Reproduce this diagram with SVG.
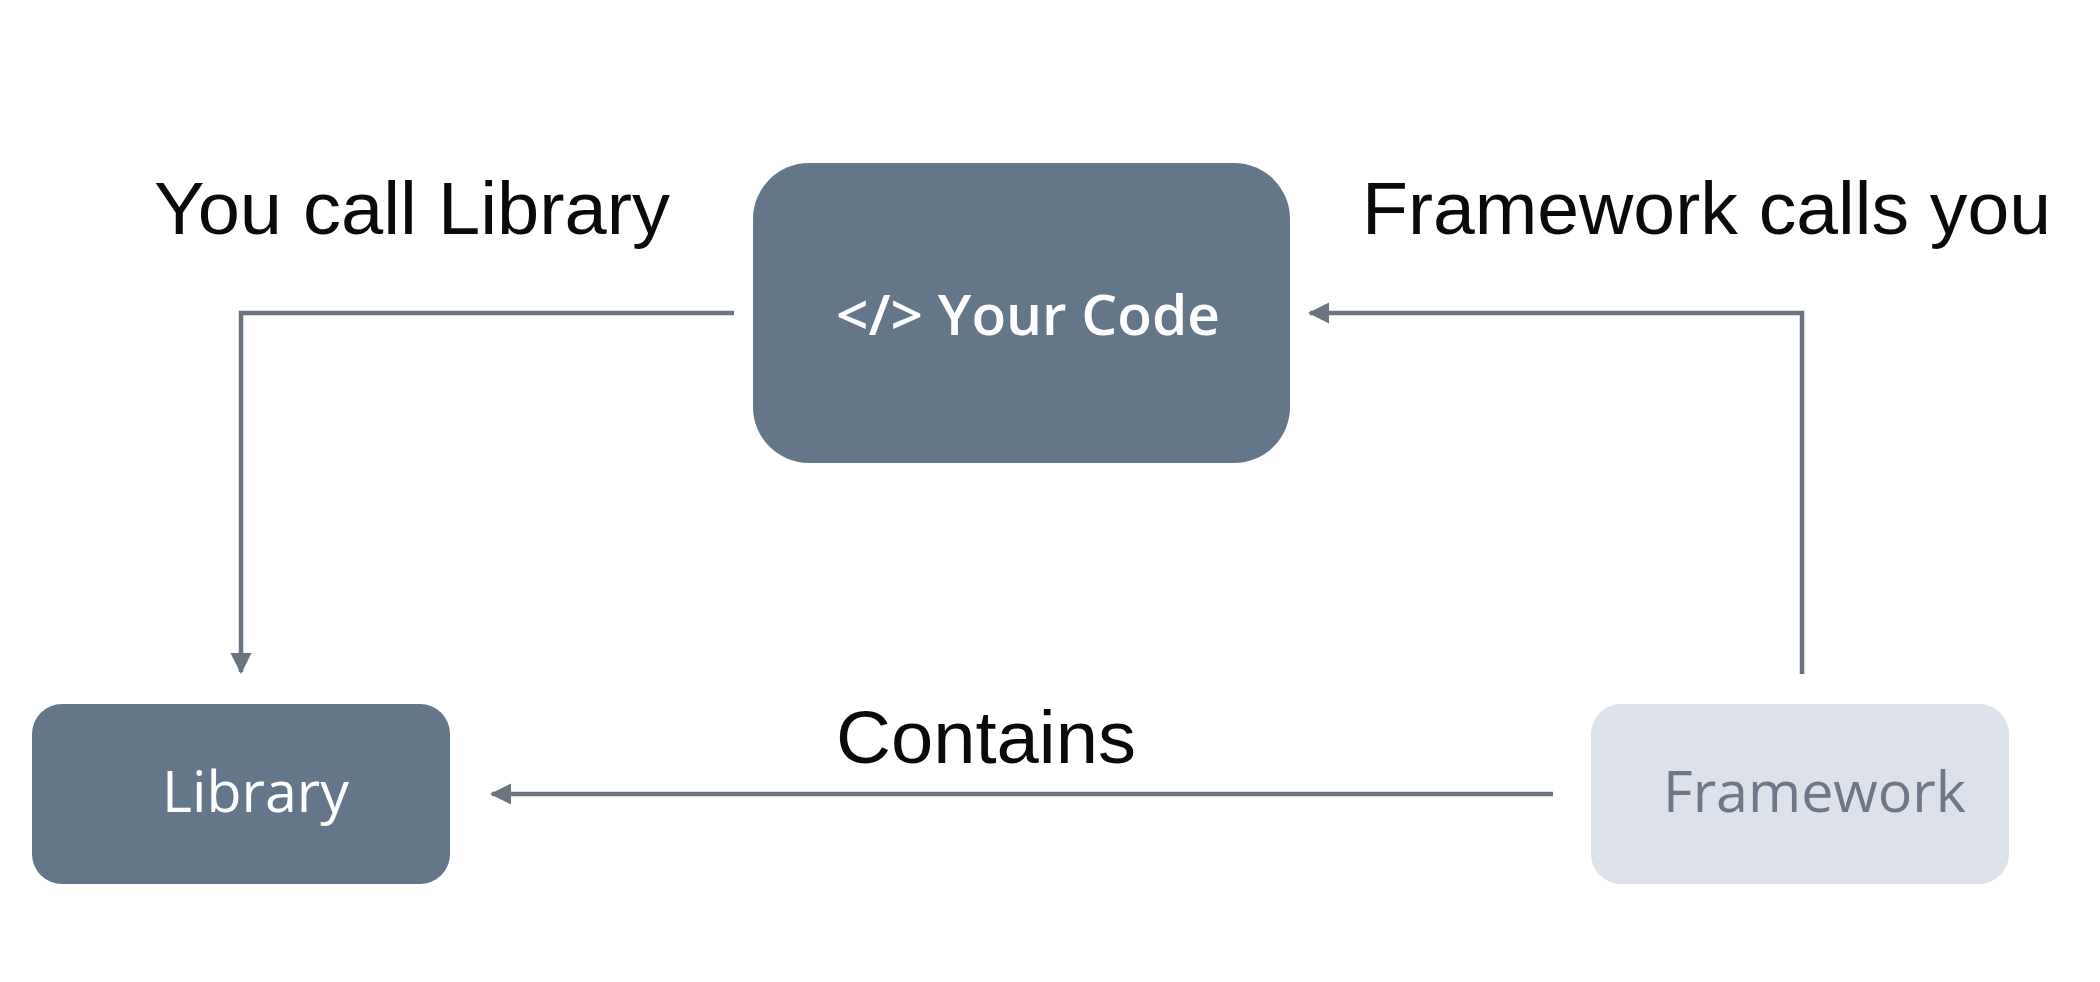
<svg xmlns="http://www.w3.org/2000/svg" width="2100" height="982" viewBox="0 0 2100 982">
<style>
.lbl{font-family:"Liberation Sans","DejaVu Sans",sans-serif;font-size:74px;fill:#0a0a0a}
.node{fill:#647689}
.ntext{font-family:"Open Sans","Liberation Sans",sans-serif;font-size:56px;fill:#ffffff}
.conn{fill:none;stroke:#6b7480;stroke-width:4.5}
</style>
<defs>
<marker id="arrow" viewBox="0 0 10 10" refX="9" refY="5" markerWidth="4.8" markerHeight="4.8" orient="auto" markerUnits="strokeWidth">
<path d="M0,0 L10,5 L0,10 Z" fill="#6b7480"/>
</marker>
</defs>
<rect width="2100" height="982" fill="#ffffff"/>
<g id="connectors">
<path class="conn" d="M734,313 L241,313 L241,672" marker-end="url(#arrow)"/>
<path class="conn" d="M1802,674 L1802,313 L1310,313" marker-end="url(#arrow)"/>
<path class="conn" d="M1553,794 L492,794" marker-end="url(#arrow)"/>
</g>
<g id="label-you-call">
<text class="lbl" x="154" y="234" textLength="516" lengthAdjust="spacingAndGlyphs">You call Library</text>
</g>
<g id="label-framework-calls">
<text class="lbl" x="1362" y="234" textLength="689" lengthAdjust="spacingAndGlyphs">Framework calls you</text>
</g>
<g id="label-contains">
<text class="lbl" x="836" y="763" textLength="300" lengthAdjust="spacingAndGlyphs">Contains</text>
</g>
<g id="your-code">
<rect class="node" x="753" y="163" width="537" height="300" rx="56"/>
<text class="ntext" x="836" y="335" font-weight="600" font-size="53" textLength="384" lengthAdjust="spacingAndGlyphs">&lt;/&gt; Your Code</text>
</g>
<g id="library">
<rect class="node" x="32" y="704" width="418" height="180" rx="30"/>
<text class="ntext" x="162" y="812" textLength="187" lengthAdjust="spacingAndGlyphs">Library</text>
</g>
<g id="framework">
<rect x="1591" y="704" width="418" height="180" rx="30" fill="#dde2ea"/>
<text class="ntext" x="1663" y="812" style="fill:#6e7888" textLength="303" lengthAdjust="spacingAndGlyphs">Framework</text>
</g>
</svg>
